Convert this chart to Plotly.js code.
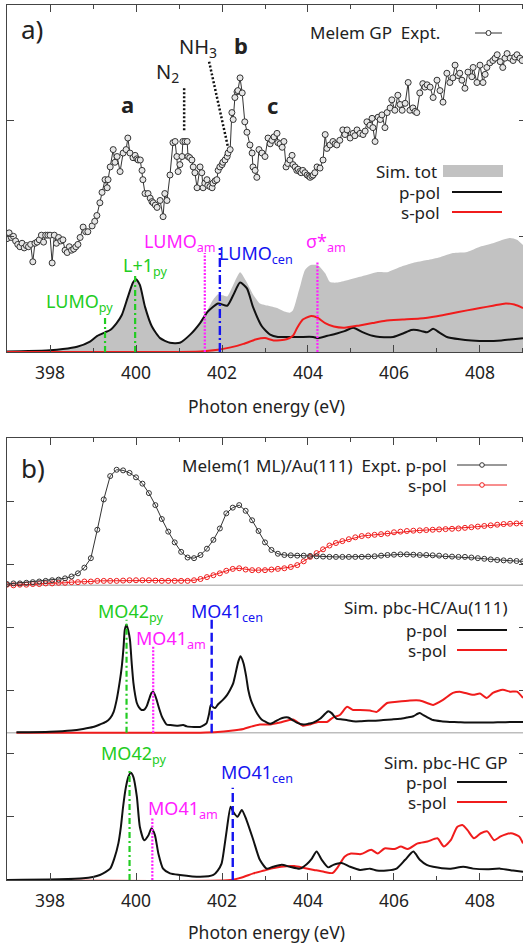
<!DOCTYPE html>
<html><head><meta charset="utf-8">
<script src="https://cdn.plot.ly/plotly-3.0.1.min.js"></script>
<style>html,body{margin:0;padding:0;overflow:hidden;background:#fff}</style>
</head><body><div id="chart"></div>
<script>
// ---------------- Panel a) data ----------------
const expA_E = [397.00,397.05,397.10,397.15,397.20,397.25,397.30,397.35,397.40,397.45,397.50,397.55,397.60,397.65,397.70,397.75,397.80,397.85,397.90,397.95,398.00,398.05,398.10,398.15,398.20,398.25,398.30,398.35,398.40,398.45,398.50,398.55,398.60,398.65,398.70,398.77,398.83,398.88,398.98,399.04,399.09,399.16,399.21,399.28,399.33,399.35,399.40,399.47,399.51,399.56,399.63,399.70,399.77,399.81,399.86,399.93,399.98,400.02,400.05,400.10,400.14,400.16,400.21,400.28,400.33,400.37,400.40,400.45,400.49,400.56,400.63,400.67,400.72,400.79,400.86,400.91,400.95,400.98,401.02,401.07,401.09,401.14,401.19,401.21,401.25,401.30,401.33,401.37,401.42,401.49,401.53,401.56,401.60,401.65,401.67,401.72,401.77,401.79,401.84,401.88,401.91,401.95,402.00,402.02,402.07,402.12,402.14,402.19,402.23,402.26,402.30,402.35,402.37,402.42,402.47,402.53,402.58,402.65,402.70,402.72,402.77,402.81,402.86,402.93,403.00,403.07,403.12,403.16,403.21,403.28,403.30,403.35,403.40,403.44,403.49,403.53,403.58,403.63,403.65,403.70,403.74,403.77,403.81,403.84,403.88,403.93,403.98,404.02,404.05,404.09,404.12,404.16,404.21,404.28,404.35,404.40,404.44,404.51,404.58,404.63,404.67,404.74,404.81,404.86,404.91,404.98,405.05,405.09,405.14,405.21,405.28,405.33,405.37,405.44,405.49,405.51,405.56,405.63,405.68,405.72,405.79,405.84,405.91,405.95,406.02,406.09,406.14,406.19,406.26,406.33,406.37,406.44,406.49,406.53,406.60,406.67,406.72,406.77,406.84,406.91,407.00,407.07,407.14,407.23,407.30,407.37,407.42,407.49,407.53,407.58,407.65,407.72,407.81,407.84,407.93,408.00,408.07,408.12,408.16,408.23,408.30,408.35,408.40,408.47,408.53,408.58,408.63,408.70,408.77,408.81,408.86,408.93,408.98];
const expA_v = [0.98,1.03,0.99,1.00,0.96,0.93,0.91,0.94,0.90,0.92,0.91,0.93,0.78,0.94,0.95,0.97,1.01,0.95,1.01,1.01,1.01,0.77,1.01,0.94,0.99,0.96,0.97,0.88,0.86,0.91,0.88,0.89,0.91,0.93,0.99,1.08,1.04,1.04,1.09,1.13,1.18,1.29,1.38,1.49,1.42,1.49,1.60,1.75,1.64,1.69,1.56,1.72,1.75,1.85,1.72,1.68,1.70,1.67,1.66,1.66,1.57,1.49,1.37,1.37,1.33,1.30,1.29,1.27,1.25,1.31,1.17,1.37,1.31,1.53,1.81,1.82,1.69,1.56,1.62,1.69,1.82,1.82,1.82,1.69,1.68,1.66,1.60,1.55,1.42,1.60,1.55,1.42,1.46,1.49,1.44,1.43,1.42,1.46,1.48,1.49,1.57,1.60,1.62,1.64,1.66,1.69,1.72,1.75,2.07,2.01,2.20,2.25,2.26,2.37,2.24,1.99,1.90,1.79,1.72,1.60,1.57,1.51,1.75,1.72,1.69,1.85,1.80,1.83,1.86,1.89,1.81,1.80,1.77,1.82,1.60,1.63,1.66,1.70,1.62,1.60,1.57,1.58,1.56,1.55,1.57,1.55,1.53,1.52,1.51,1.52,1.53,1.55,1.60,1.59,1.66,1.88,1.76,1.79,1.82,1.80,1.79,1.83,1.92,1.88,1.92,1.85,1.89,1.87,1.92,1.89,1.88,1.91,1.99,1.96,2.02,1.94,1.82,2.03,2.01,2.05,1.94,2.07,2.11,2.18,2.09,2.22,2.14,2.09,2.15,2.33,2.09,2.11,2.08,2.07,2.24,2.32,2.29,2.31,2.29,2.20,2.35,2.26,2.16,2.41,2.33,2.37,2.48,2.39,2.41,2.35,2.28,2.42,2.38,2.46,2.33,2.48,2.33,2.40,2.46,2.50,2.52,2.54,2.57,2.51,2.46,2.54,2.58,2.54,2.52,2.55,2.57,2.54,2.52];

const simA_E = [397.0,397.5,398.0,398.3,398.63,398.93,399.1,399.28,399.4,399.55,399.67,399.81,399.93,400.0,400.09,400.21,400.37,400.56,400.79,401.02,401.26,401.49,401.67,401.91,402.12,402.26,402.42,402.58,402.72,402.93,403.12,403.3,403.51,403.81,404.12,404.23,404.45,404.67,404.85,405.05,405.28,405.5,405.67,405.98,406.21,406.4,406.53,406.65,406.77,406.91,407.05,407.23,407.53,407.8,408.16,408.5,408.77,409.0];
const simA_p = [0.005,0.008,0.015,0.025,0.045,0.09,0.14,0.17,0.19,0.25,0.32,0.475,0.60,0.63,0.58,0.39,0.22,0.12,0.08,0.08,0.15,0.25,0.35,0.42,0.40,0.49,0.60,0.55,0.39,0.22,0.15,0.13,0.13,0.13,0.13,0.12,0.14,0.16,0.18,0.21,0.17,0.14,0.13,0.13,0.16,0.19,0.19,0.18,0.17,0.20,0.17,0.13,0.11,0.10,0.095,0.10,0.11,0.12];

const totA_E = [397.0,397.5,398.0,398.3,398.63,398.93,399.1,399.28,399.4,399.55,399.67,399.81,399.93,400.0,400.09,400.21,400.37,400.56,400.79,401.02,401.26,401.49,401.67,401.79,401.91,402.02,402.12,402.26,402.42,402.55,402.72,402.88,403.08,403.28,403.45,403.58,403.65,403.81,403.93,404.05,404.23,404.4,404.51,404.67,404.91,405.21,405.6,405.84,406.14,406.44,406.77,407.07,407.37,407.7,408.0,408.3,408.53,408.7,408.86,409.0];
const totA = [0.005,0.008,0.015,0.025,0.045,0.09,0.14,0.17,0.19,0.25,0.32,0.475,0.60,0.63,0.58,0.39,0.22,0.12,0.08,0.08,0.15,0.25,0.37,0.45,0.50,0.49,0.48,0.58,0.69,0.62,0.50,0.42,0.40,0.38,0.35,0.34,0.36,0.56,0.71,0.75,0.75,0.68,0.605,0.60,0.62,0.65,0.69,0.69,0.735,0.77,0.795,0.82,0.855,0.865,0.91,0.94,0.97,0.985,0.97,0.925];

const sA_E = [397.0,401.5,401.9,402.2,402.5,402.8,403.0,403.2,403.5,403.65,403.75,403.88,404.05,404.2,404.4,404.6,404.85,405.2,405.5,405.8,406.2,406.6,407.0,407.3,407.7,408.0,408.3,408.6,408.8,409.0];
const sA = [0.0,0.005,0.02,0.04,0.07,0.11,0.12,0.10,0.11,0.14,0.21,0.28,0.31,0.30,0.25,0.22,0.21,0.23,0.25,0.27,0.28,0.29,0.31,0.33,0.36,0.38,0.40,0.42,0.41,0.38];

// orbital marker lines panel a
const markA_E = [399.28, 399.98, 401.60, 401.95, 404.22];
const markA_top = [0.32, 0.67, 0.855, 0.90, 0.78];
const markA_lbl = ['LUMO<sub>py</sub>','L+1<sub>py</sub>','LUMO<sub>am</sub>','LUMO<sub>cen</sub>','σ*<sub>am</sub>'];
const markA_type = ['py','py','am','cen','am'];
const lblA_E = [397.88, 399.67, 400.16, 401.91, 403.93];
const lblA_v = [0.43, 0.735, 0.95, 0.84, 0.95];

// ---------------- Panel b) data ----------------
const expB_E = [397.00,397.15,397.30,397.45,397.60,397.75,397.90,398.05,398.20,398.35,398.50,398.65,398.80,398.95,399.10,399.25,399.40,399.55,399.70,399.85,400.00,400.15,400.30,400.45,400.60,400.75,400.90,401.05,401.20,401.35,401.50,401.65,401.80,401.95,402.10,402.25,402.40,402.55,402.70,402.85,403.00,403.15,403.30,403.45,403.60,403.75,403.90,404.05,404.20,404.35,404.50,404.65,404.80,404.95,405.10,405.25,405.40,405.55,405.70,405.85,406.00,406.15,406.30,406.45,406.60,406.75,406.90,407.05,407.20,407.35,407.50,407.65,407.80,407.95,408.10,408.25,408.40,408.55,408.70,408.85,409.00];
const expB_p = [0.02,0.03,0.03,0.04,0.05,0.06,0.07,0.08,0.09,0.11,0.14,0.19,0.28,0.43,0.88,1.36,1.73,1.83,1.82,1.78,1.71,1.61,1.46,1.27,1.05,0.85,0.68,0.53,0.44,0.43,0.48,0.58,0.72,0.90,1.14,1.23,1.27,1.18,1.03,0.86,0.68,0.56,0.50,0.48,0.475,0.47,0.47,0.465,0.46,0.455,0.45,0.45,0.45,0.45,0.45,0.45,0.455,0.46,0.47,0.48,0.485,0.49,0.49,0.485,0.48,0.48,0.475,0.47,0.46,0.455,0.45,0.45,0.44,0.43,0.42,0.41,0.40,0.395,0.39,0.385,0.38];
const expB_s = [0.01,0.0,0.01,0.01,0.02,0.02,0.03,0.03,0.04,0.04,0.05,0.05,0.06,0.06,0.07,0.07,0.07,0.07,0.075,0.08,0.08,0.08,0.08,0.075,0.07,0.07,0.07,0.07,0.07,0.08,0.10,0.13,0.16,0.19,0.23,0.26,0.27,0.25,0.24,0.24,0.24,0.25,0.26,0.27,0.29,0.32,0.38,0.45,0.51,0.57,0.63,0.67,0.70,0.73,0.76,0.78,0.79,0.80,0.81,0.82,0.84,0.85,0.86,0.865,0.87,0.875,0.88,0.885,0.89,0.895,0.90,0.91,0.92,0.93,0.94,0.95,0.96,0.97,0.975,0.98,0.98];

const au_E = [397.22,398.0,398.5,398.77,399.0,399.16,399.30,399.40,399.48,399.55,399.62,399.67,399.71,399.74,399.78,399.82,399.86,399.90,399.94,399.98,400.02,400.07,400.13,400.20,400.25,400.30,400.36,400.40,400.44,400.48,400.54,400.60,400.66,400.71,400.80,400.95,401.10,401.18,401.35,401.49,401.58,401.64,401.70,401.74,401.80,401.84,401.91,402.02,402.12,402.19,402.26,402.30,402.38,402.43,402.50,402.56,402.61,402.67,402.73,402.82,402.92,403.02,403.12,403.22,403.35,403.45,403.54,403.64,403.74,403.89,404.00,404.12,404.28,404.40,404.47,404.55,404.62,404.67,404.80,404.90,405.05,405.21,405.40,405.55,405.75,405.95,406.14,406.30,406.45,406.55,406.60,406.68,406.76,406.91,407.10,407.30,407.50,407.69,408.00,408.25,408.47,408.70,409.00];
const au_p = [0.005,0.015,0.035,0.06,0.09,0.13,0.17,0.23,0.33,0.52,0.80,1.05,1.35,1.63,1.71,1.62,1.47,1.10,0.79,0.60,0.47,0.40,0.36,0.37,0.42,0.52,0.63,0.65,0.60,0.52,0.38,0.26,0.18,0.13,0.12,0.11,0.12,0.10,0.09,0.09,0.12,0.15,0.30,0.44,0.40,0.39,0.45,0.52,0.60,0.68,0.78,0.89,1.13,1.21,1.10,0.90,0.68,0.52,0.42,0.30,0.21,0.17,0.14,0.17,0.22,0.24,0.24,0.20,0.16,0.13,0.14,0.16,0.22,0.30,0.34,0.31,0.25,0.22,0.21,0.20,0.18,0.18,0.19,0.19,0.20,0.21,0.22,0.24,0.26,0.30,0.31,0.28,0.25,0.20,0.18,0.17,0.165,0.16,0.16,0.16,0.165,0.17,0.17];
const auS_E = [397.22,401.5,401.9,402.2,402.5,402.7,402.88,403.12,403.35,403.65,403.88,404.05,404.23,404.44,404.58,404.74,404.91,405.05,405.21,405.44,405.60,405.84,406.07,406.37,406.60,406.77,406.91,407.14,407.37,407.53,407.84,408.0,408.16,408.30,408.53,408.70,408.86,409.0];
const au_s = [0.0,0.0,0.01,0.03,0.06,0.10,0.13,0.13,0.16,0.21,0.11,0.13,0.17,0.17,0.24,0.28,0.41,0.36,0.36,0.35,0.33,0.47,0.49,0.51,0.51,0.47,0.44,0.52,0.63,0.65,0.60,0.62,0.55,0.63,0.68,0.65,0.65,0.55];

const gp_E = [397.0,398.77,399.16,399.40,399.50,399.59,399.65,399.70,399.76,399.82,399.88,399.94,400.02,400.09,400.19,400.29,400.36,400.44,400.52,400.63,400.79,401.02,401.49,401.80,401.90,401.99,402.05,402.11,402.20,402.26,402.36,402.46,402.57,402.73,402.88,403.04,403.19,403.39,403.58,403.81,403.97,404.09,404.20,404.32,404.47,404.59,404.78,404.98,405.21,405.44,405.60,405.83,406.06,406.26,406.45,406.60,406.76,406.91,407.30,407.61,407.84,408.16,408.47,408.77,409.0];
const gp_p = [0.0,0.026,0.08,0.18,0.35,0.58,0.85,1.16,1.45,1.63,1.70,1.63,1.32,0.84,0.63,0.71,0.82,0.71,0.42,0.18,0.105,0.08,0.05,0.08,0.15,0.26,0.50,0.79,1.16,1.08,1.00,1.11,0.95,0.63,0.32,0.18,0.21,0.24,0.21,0.18,0.25,0.34,0.45,0.32,0.20,0.24,0.27,0.21,0.16,0.18,0.15,0.15,0.18,0.32,0.45,0.32,0.24,0.21,0.18,0.21,0.18,0.17,0.18,0.15,0.13];
const gpS_E = [397.0,402.2,402.46,402.73,402.98,403.14,403.37,403.68,403.91,404.14,404.37,404.57,404.69,404.85,405.0,405.23,405.47,405.62,405.78,406.01,406.16,406.32,406.55,406.78,407.01,407.16,407.32,407.47,407.59,407.71,407.86,408.02,408.17,408.33,408.48,408.72,408.91,409.0];
const gp_s = [0.0,0.0,0.04,0.105,0.15,0.18,0.21,0.22,0.19,0.16,0.13,0.11,0.20,0.37,0.42,0.41,0.48,0.42,0.50,0.49,0.53,0.49,0.58,0.61,0.66,0.53,0.63,0.84,0.87,0.79,0.66,0.74,0.77,0.63,0.69,0.74,0.69,0.58];

// orbital marker lines panel b (Au subplot, GP subplot)
const markAu_E = [399.78, 400.40, 401.76];
const markAu_top = [1.79, 1.36, 1.82];
const markGP_E = [399.85, 400.38, 402.25];
const markGP_top = [1.74, 0.98, 1.46];
const markB_lbl = ['MO42<sub>py</sub>','MO41<sub>am</sub>','MO41<sub>cen</sub>'];
const markB_type = ['py','am','cenB'];
const lblAu_E = [399.09, 399.98, 401.26];
const lblAu_v = [1.91, 1.47, 1.91];
const lblGP_E = [399.16, 400.26, 401.95];
const lblGP_v = [1.98, 1.11, 1.69];

const xTicks = [398,400,402,404,406,408];

// ---------------- styling / layout constants ----------------
const OFF_EXP = 4.667, OFF_AU = 2.333, OFF_GP = 0;
const W = 526, H = 944, ML = 7;
const PW = W - ML;
const X = p => (p - ML) / PW;        // pixel -> paper x
const Y = p => 1 - p / H;            // pixel -> paper y
const FONT = 'Noto Sans, Open Sans, DejaVu Sans, sans-serif';
const INK = '#222';
const RED = '#f01c1c';
const styles = {
  py:  {color:'#22cc22', dash:'6px,3px,2px,3px', width:2.2},
  am:  {color:'#ff20ff', dash:'2px,1.5px', width:2.2},
  cen: {color:'#1414f0', dash:'9px,3px,2px,3px', width:2.4},
  cenB:{color:'#1414f0', dash:'9px,4px', width:2.4}
};

const traces = [];
// panel a
traces.push({x: totA_E, y: totA, xaxis:'x', yaxis:'y', mode:'lines', line:{width:0, shape:'spline', smoothing:0.6}, fill:'tozeroy', fillcolor:'#c2c2c2', hoverinfo:'skip'});
traces.push({x: simA_E, y: simA_p, xaxis:'x', yaxis:'y', mode:'lines', line:{color:'#111', width:2, shape:'spline', smoothing:0.6}});
traces.push({x: sA_E, y: sA, xaxis:'x', yaxis:'y', mode:'lines', line:{color:RED, width:2, shape:'spline', smoothing:0.6}});
markA_E.forEach((e,i) => {
  const st = styles[markA_type[i]];
  traces.push({x:[e,e], y:[0, markA_top[i]], xaxis:'x', yaxis:'y', mode:'lines', line:{color:st.color, dash:st.dash, width:st.width}});
});
traces.push({x: expA_E, y: expA_v, xaxis:'x', yaxis:'y', mode:'lines+markers', line:{color:'#333', width:1}, marker:{symbol:'circle', size:6, color:'#e6e6e6', line:{color:'#333', width:1}}});

// panel b
const shift = (arr, off) => arr.map(v => v + off);
traces.push({x: expB_E, y: shift(expB_s, OFF_EXP), xaxis:'x2', yaxis:'y2', mode:'lines+markers', line:{color:RED, width:1}, marker:{symbol:'circle-open', size:5, color:RED, line:{width:1}}});
traces.push({x: expB_E, y: shift(expB_p, OFF_EXP), xaxis:'x2', yaxis:'y2', mode:'lines+markers', line:{color:'#333', width:1}, marker:{symbol:'circle-open', size:5, color:'#333', line:{width:1}}});
traces.push({x: auS_E, y: shift(au_s, OFF_AU), xaxis:'x2', yaxis:'y2', mode:'lines', line:{color:RED, width:2, shape:'spline', smoothing:0.6}});
traces.push({x: au_E, y: shift(au_p, OFF_AU), xaxis:'x2', yaxis:'y2', mode:'lines', line:{color:'#111', width:2, shape:'spline', smoothing:0.6}});
traces.push({x: gpS_E, y: shift(gp_s, OFF_GP), xaxis:'x2', yaxis:'y2', mode:'lines', line:{color:RED, width:2, shape:'spline', smoothing:0.6}});
traces.push({x: gp_E, y: shift(gp_p, OFF_GP), xaxis:'x2', yaxis:'y2', mode:'lines', line:{color:'#111', width:2, shape:'spline', smoothing:0.6}});
markAu_E.forEach((e,i) => {
  const st = styles[markB_type[i]];
  traces.push({x:[e,e], y:[OFF_AU, OFF_AU + markAu_top[i]], xaxis:'x2', yaxis:'y2', mode:'lines', line:{color:st.color, dash:st.dash, width:st.width}});
});
markGP_E.forEach((e,i) => {
  const st = styles[markB_type[i]];
  traces.push({x:[e,e], y:[OFF_GP, OFF_GP + markGP_top[i]], xaxis:'x2', yaxis:'y2', mode:'lines', line:{color:st.color, dash:st.dash, width:st.width}});
});

// annotations
const ann = [];
const A = (o) => ann.push(Object.assign({showarrow:false, xanchor:'center', yanchor:'middle', borderpad:0, font:{family:FONT, size:16, color:INK}}, o));
const LBL = 18;
markA_lbl.forEach((t,i) => A({xref:'x', yref:'y', x:lblA_E[i], y:lblA_v[i], text:t, xanchor:'left', font:{family:FONT, size:LBL, color:styles[markA_type[i]].color}}));
markB_lbl.forEach((t,i) => {
  const c = styles[markB_type[i]].color;
  A({xref:'x2', yref:'y2', x:lblAu_E[i], y:OFF_AU + lblAu_v[i], text:t, xanchor:'left', font:{family:FONT, size:LBL, color:c}});
  A({xref:'x2', yref:'y2', x:lblGP_E[i], y:OFF_GP + lblGP_v[i], text:t, xanchor:'left', font:{family:FONT, size:LBL, color:c}});
});
// panel letters & peak labels
A({xref:'paper', yref:'paper', x:X(20), y:Y(29), text:'a)', xanchor:'left', font:{family:FONT, size:26, color:INK}});
A({xref:'paper', yref:'paper', x:X(20), y:Y(468), text:'b)', xanchor:'left', font:{family:FONT, size:26, color:INK}});
A({xref:'paper', yref:'paper', x:X(127), y:Y(104), text:'<b>a</b>', font:{family:FONT, size:22, color:INK}});
A({xref:'paper', yref:'paper', x:X(241), y:Y(45), text:'<b>b</b>', font:{family:FONT, size:22, color:INK}});
A({xref:'paper', yref:'paper', x:X(272), y:Y(105), text:'<b>c</b>', font:{family:FONT, size:22, color:INK}});
A({xref:'paper', yref:'paper', x:X(155), y:Y(73), text:'N<sub>2</sub>', xanchor:'left', font:{family:FONT, size:20, color:INK}});
A({xref:'paper', yref:'paper', x:X(178), y:Y(48), text:'NH<sub>3</sub>', xanchor:'left', font:{family:FONT, size:20, color:INK}});
// legends
const LEG = 17;
const legTxt = (t, xr, yc) => A({xref:'paper', yref:'paper', x:X(xr), y:Y(yc), text:t, xanchor:'right', font:{family:FONT, size:LEG, color:INK}});
legTxt('Melem GP  Expt.', 441, 33);
legTxt('Sim. tot', 438, 171);
legTxt('p-pol', 441, 192);
legTxt('s-pol', 441, 212);
legTxt('Melem(1 ML)/Au(111)  Expt. p-pol', 448, 465);
legTxt('s-pol', 448, 485);
legTxt('Sim. pbc-HC/Au(111)', 509, 607);
legTxt('p-pol', 448, 630);
legTxt('s-pol', 448, 650);
legTxt('Sim. pbc-HC GP', 509, 762);
legTxt('p-pol', 448, 782);
legTxt('s-pol', 448, 802);

// shapes
const shapes = [];
const seg = (x0,x1,yc,color,w,dash) => shapes.push({type:'line', xref:'paper', yref:'paper', x0:X(x0), x1:X(x1), y0:Y(yc), y1:Y(yc), line:{color:color, width:w, dash:dash||'solid'}});
const circ = (xc,yc,r,color) => shapes.push({type:'circle', xref:'paper', yref:'paper', x0:X(xc-r), x1:X(xc+r), y0:Y(yc+r), y1:Y(yc-r), line:{color:color, width:1}, fillcolor:'white'});
seg(475, 502, 33, '#333', 1); circ(488.5, 33, 2.5, '#333');
shapes.push({type:'rect', xref:'paper', yref:'paper', x0:X(443), x1:X(503), y0:Y(177), y1:Y(165), line:{width:0}, fillcolor:'#c2c2c2'});
seg(452, 502, 192, '#111', 2);
seg(452, 502, 212, RED, 2);
seg(457, 507, 465, '#333', 1); circ(482, 465, 2.3, '#333');
seg(457, 507, 485, RED, 1); circ(482, 485, 2.3, RED);
seg(457, 507, 630, '#111', 2);
seg(457, 507, 650, RED, 2);
seg(457, 507, 782, '#111', 2);
seg(457, 507, 802, RED, 2);
// baselines of stacked spectra in panel b
[OFF_EXP, OFF_AU].forEach(o => shapes.push({type:'line', xref:'x2 domain', yref:'y2', x0:0, x1:1, y0:o, y1:o, line:{color:'#bdbdbd', width:1.5}, layer:'below'}));
// dotted guide lines N2 / NH3 (data coords)
shapes.push({type:'line', xref:'x', yref:'y', x0:401.12, x1:401.12, y0:2.28, y1:1.90, line:{color:'#111', width:2.5, dash:'2px,2px'}});
shapes.push({type:'line', xref:'x', yref:'y', x0:401.70, x1:402.14, y0:2.51, y1:1.77, line:{color:'#111', width:2.5, dash:'2px,2px'}});

const xCommon = {
  range:[397, 409.07], tickvals:xTicks, ticks:'inside', ticklen:7, tickwidth:1, tickcolor:'#444',
  minor:{dtick:1, tick0:397, ticks:'inside', ticklen:4, tickcolor:'#444'},
  showline:true, linecolor:'#444', linewidth:1, mirror:'allticks', showgrid:false, zeroline:false,
  tickfont:{family:FONT, size:17.5, color:INK}, ticklabelstandoff:5
};
const yCommon = {
  dtick:1, ticks:'inside', ticklen:7, tickwidth:1, tickcolor:'#444', showticklabels:false,
  showline:true, linecolor:'#444', linewidth:1, mirror:'allticks', showgrid:false, zeroline:false
};
const TITLE = {text:'Photon energy (eV)', font:{family:FONT, size:17.5, color:INK}, standoff:17};
const layout = {
  width:W, height:H, margin:{l:ML, r:0, t:0, b:0}, showlegend:false,
  paper_bgcolor:'white', plot_bgcolor:'white', font:{family:FONT, color:INK},
  xaxis: Object.assign({}, xCommon, {anchor:'y', domain:[0,1], title:TITLE}),
  yaxis: Object.assign({}, yCommon, {anchor:'x', domain:[Y(352), Y(5)], range:[0,3]}),
  xaxis2: Object.assign({}, xCommon, {anchor:'y2', domain:[0,1], title:TITLE}),
  yaxis2: Object.assign({}, yCommon, {anchor:'x2', domain:[Y(880), Y(438)], range:[0,7]}),
  annotations: ann, shapes: shapes
};
Plotly.newPlot('chart', traces, layout, {displayModeBar:false, staticPlot:true});
</script></body></html>
